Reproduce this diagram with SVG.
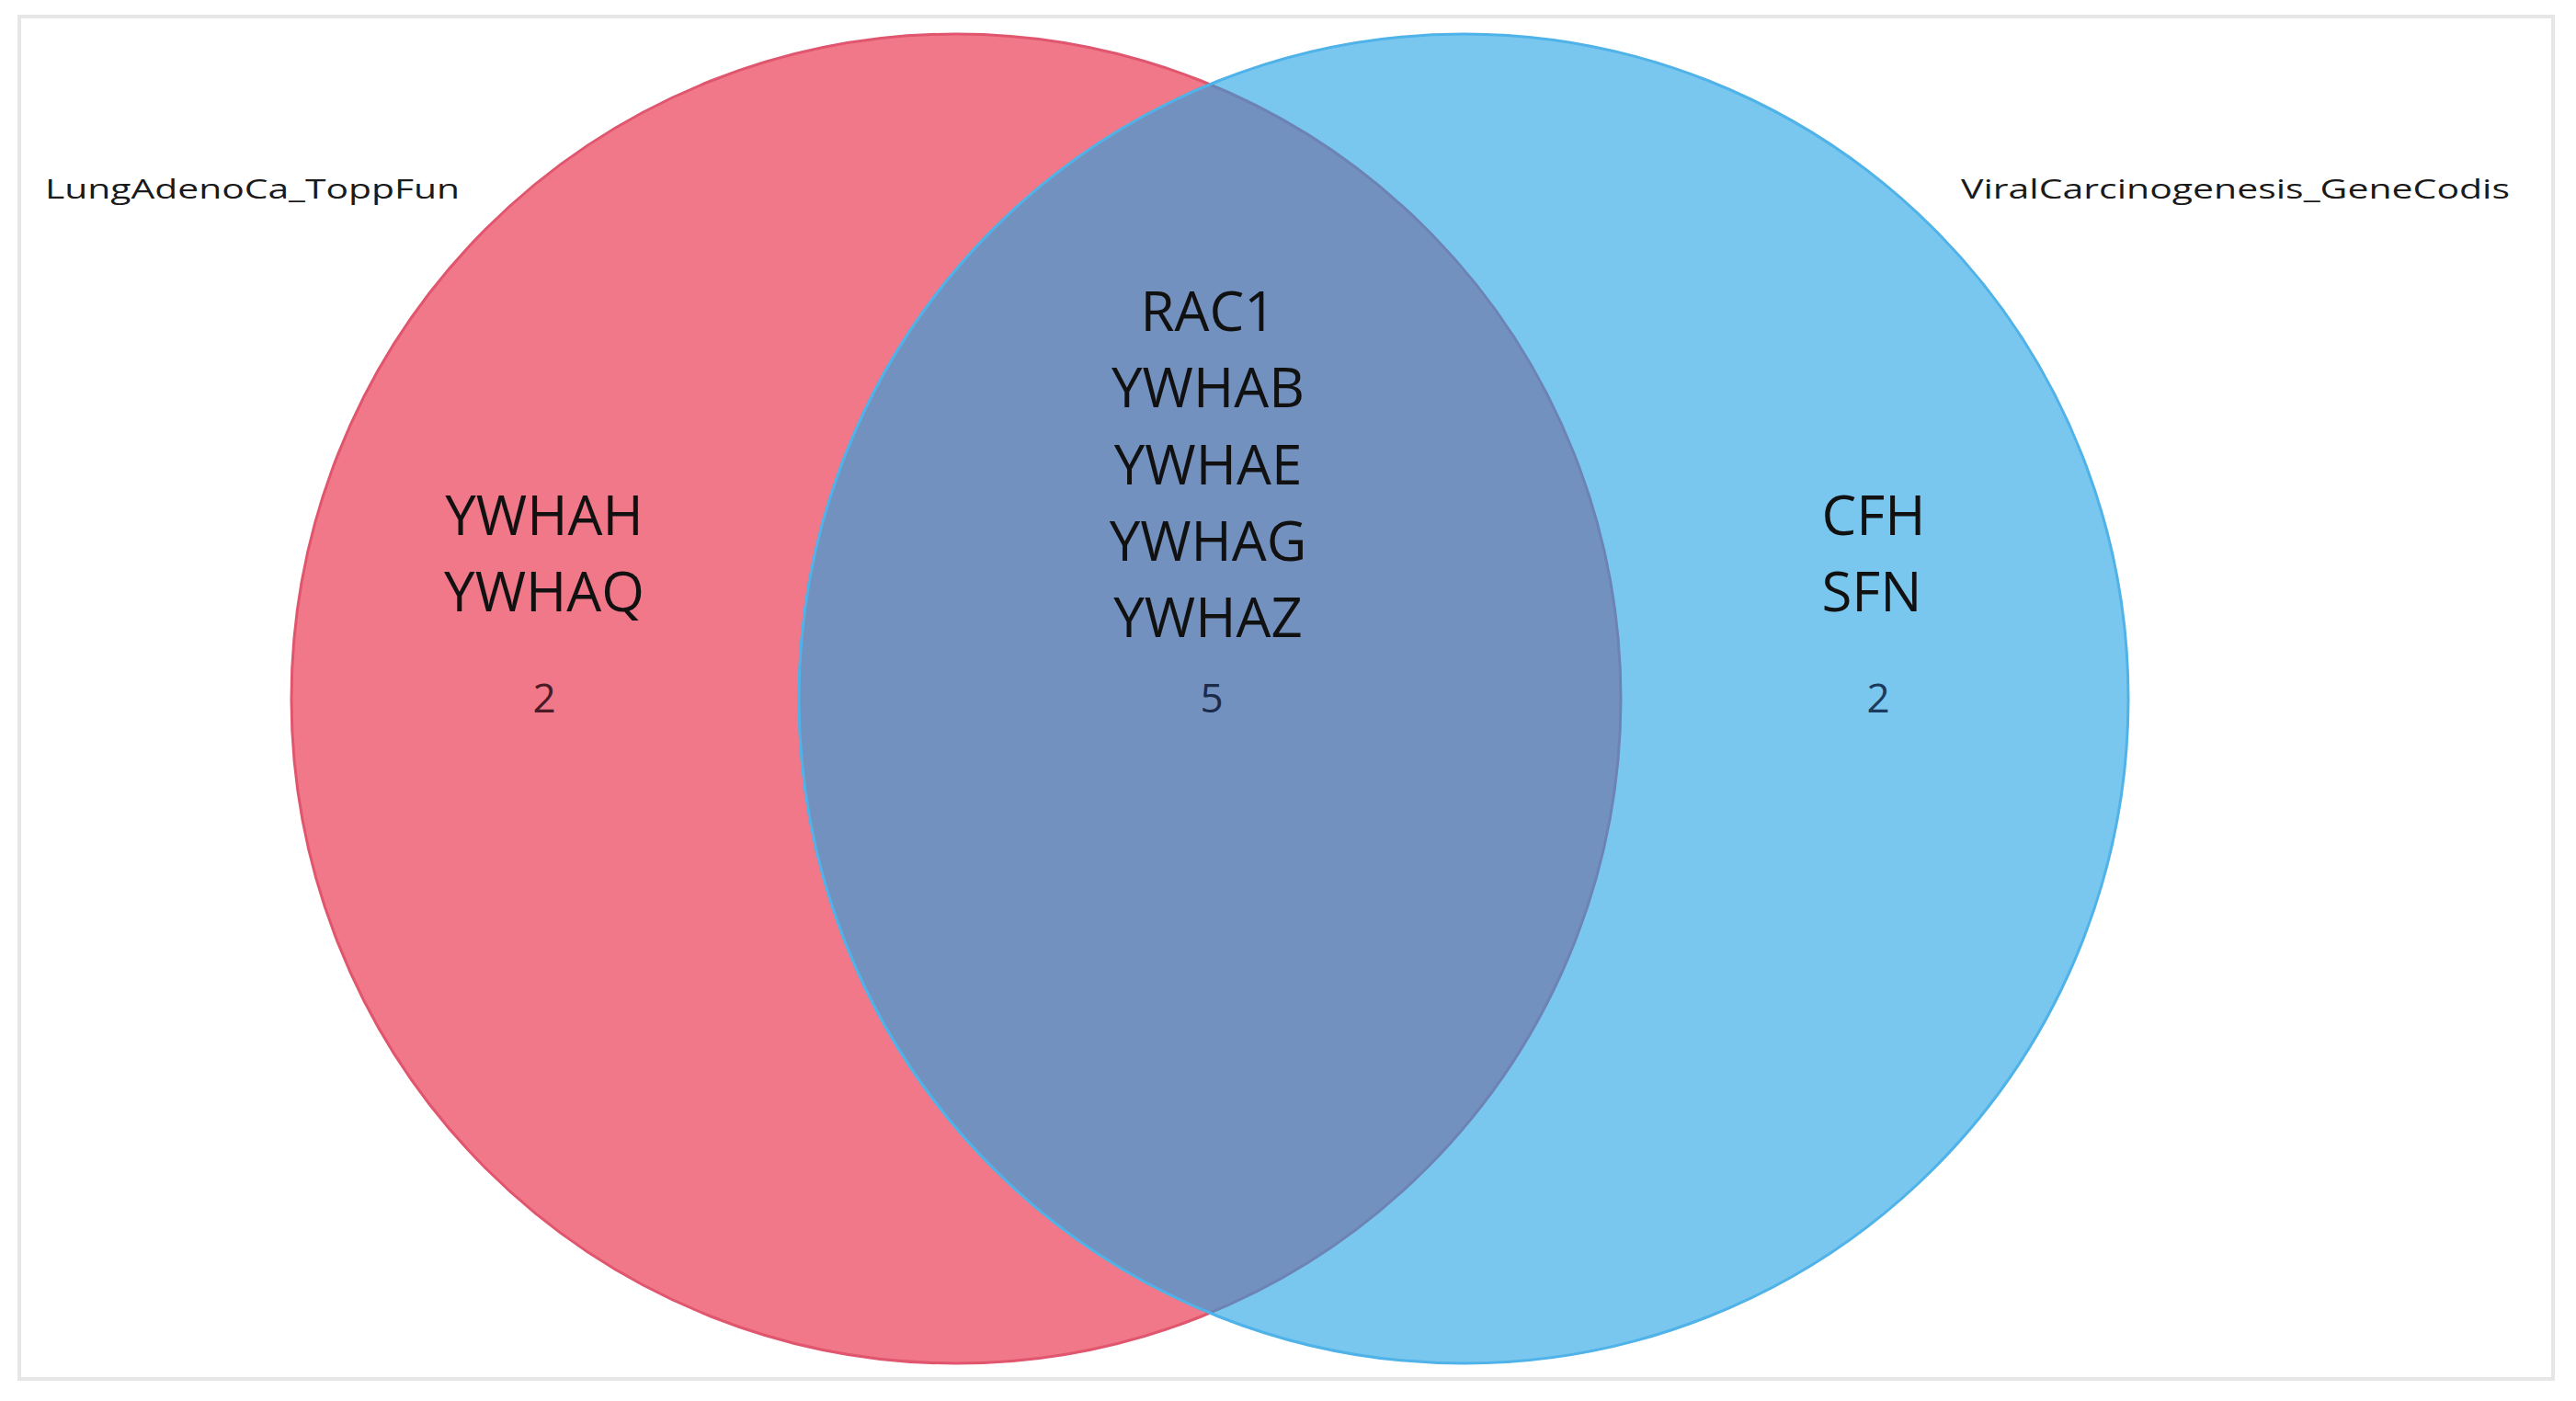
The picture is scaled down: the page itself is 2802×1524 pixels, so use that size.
<svg xmlns="http://www.w3.org/2000/svg" width="2802" height="1524" viewBox="0 0 2802 1524">
<style>
.set{fill-opacity:0.6;stroke-width:3}
.gene{font-family:"Segoe UI","Open Sans","Noto Sans","Liberation Sans",sans-serif;font-size:60px;fill:#111;text-anchor:middle}
.title{font-family:"Segoe UI","Open Sans","Noto Sans","Liberation Sans",sans-serif;font-size:30px;fill:#1a1a1a}
.count{font-family:"Segoe UI","Open Sans","Noto Sans","Liberation Sans",sans-serif;font-size:44px;text-anchor:middle}
</style>
<rect x="0" y="0" width="2802" height="1524" fill="#ffffff"/>
<rect x="21" y="18" width="2756" height="1482" fill="#ffffff" stroke="#e6e6e6" stroke-width="4"/>
<g id="set-lung">
<circle class="set" cx="1040" cy="760" r="723" fill="#e61e39" stroke="#e0566e"/>
</g>
<g id="set-viral">
<circle class="set" cx="1592" cy="760" r="723" fill="#20a2e4" stroke="#4fb2e8"/>
</g>
<g id="label-lung">
<text class="title" x="49" y="216" textLength="451" lengthAdjust="spacingAndGlyphs">LungAdenoCa_ToppFun</text>
</g>
<g id="label-viral">
<text class="title" x="2133" y="216" textLength="597" lengthAdjust="spacingAndGlyphs">ViralCarcinogenesis_GeneCodis</text>
</g>
<g id="region-lung-only">
<text class="gene" x="592" y="582">YWHAH</text>
<text class="gene" x="592" y="665">YWHAQ</text>
<text class="count" x="592" y="775" fill="#4a1a26">2</text>
</g>
<g id="region-both">
<text class="gene" x="1314" y="360">RAC1</text>
<text class="gene" x="1314" y="443">YWHAB</text>
<text class="gene" x="1314" y="527">YWHAE</text>
<text class="gene" x="1314" y="610">YWHAG</text>
<text class="gene" x="1314" y="693">YWHAZ</text>
<text class="count" x="1318" y="775" fill="#1c2b4a">5</text>
</g>
<g id="region-viral-only">
<text class="gene" x="2038" y="582">CFH</text>
<text class="gene" x="2036" y="665">SFN</text>
<text class="count" x="2043" y="775" fill="#1b3a5c">2</text>
</g>
<g id="connectors"></g>
</svg>
